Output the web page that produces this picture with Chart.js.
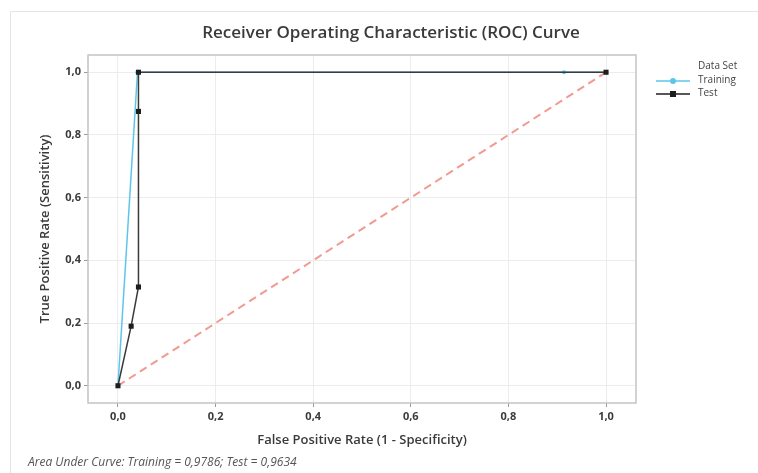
<!DOCTYPE html>
<html>
<head>
<meta charset="utf-8">
<script src="https://cdn.jsdelivr.net/npm/chart.js@4"></script>
<style>
html,body{margin:0;padding:0;background:#fff;}
#wrap{width:758px;height:473px;position:relative;}
</style>
</head>
<body>
<div id="wrap"><canvas id="c" width="758" height="473"></canvas></div>
<script>
// ---- data ----
const chartTitle = "Receiver Operating Characteristic (ROC) Curve";
const xAxisTitle = "False Positive Rate (1 - Specificity)";
const yAxisTitle = "True Positive Rate (Sensitivity)";
const footnote = "Area Under Curve: Training = 0,9786; Test = 0,9634";
const legendTitle = "Data Set";
const seriesNames = ["Training", "Test"];

const trainFPR = [0, 0.040, 0.914, 1.0];
const trainTPR = [0, 1.0, 1.0, 1.0];
const testFPR = [0, 0.027, 0.042, 0.042, 0.042, 1.0];
const testTPR = [0, 0.19, 0.315, 0.875, 1.0, 1.0];
const refFPR = [0, 1];
const refTPR = [0, 1];

const xTicks = [0, 0.2, 0.4, 0.6, 0.8, 1.0];
const yTicks = [0, 0.2, 0.4, 0.6, 0.8, 1.0];

const toPts = (xs, ys) => xs.map((x, i) => ({x: x, y: ys[i]}));
const fmt = v => v.toFixed(1).replace('.', ',');

const FONT = "'Open Sans', 'Noto Sans', sans-serif";
const CYAN = '#5cc6ea';
const BLACK = '#1e1e1e';

const decor = {
  id: 'decor',
  beforeDraw(chart) {
    const ctx = chart.ctx;
    ctx.save();
    ctx.fillStyle = '#fff';
    ctx.fillRect(0, 0, chart.width, chart.height);
    ctx.strokeStyle = '#e4e4e4';
    ctx.lineWidth = 1;
    ctx.beginPath();
    ctx.moveTo(10.5, 473);
    ctx.lineTo(10.5, 11.5);
    ctx.lineTo(758, 11.5);
    ctx.stroke();
    ctx.restore();
  },
  beforeDatasetsDraw(chart) {
    const ctx = chart.ctx, a = chart.chartArea;
    ctx.save();
    ctx.strokeStyle = '#c4c4c4';
    ctx.lineWidth = 1.5;
    ctx.strokeRect(a.left, a.top, a.right - a.left, a.bottom - a.top);
    ctx.restore();
  },
  afterDraw(chart) {
    const ctx = chart.ctx;
    ctx.save();
    // title
    ctx.fillStyle = '#3a3a3a';
    ctx.font = "600 17px " + FONT;
    ctx.textAlign = 'center';
    ctx.textBaseline = 'middle';
    ctx.fillText(chartTitle, 391, 33);
    // legend
    ctx.font = "10px " + FONT;
    ctx.textAlign = 'left';
    ctx.fillStyle = '#444';
    ctx.fillText(legendTitle, 698, 66);
    ctx.fillText(seriesNames[0], 698, 80);
    ctx.fillText(seriesNames[1], 698, 93);
    ctx.lineWidth = 1.5;
    ctx.strokeStyle = CYAN;
    ctx.beginPath(); ctx.moveTo(656, 81); ctx.lineTo(690, 81); ctx.stroke();
    ctx.fillStyle = CYAN;
    ctx.beginPath(); ctx.arc(673, 81, 3, 0, Math.PI * 2); ctx.fill();
    ctx.strokeStyle = BLACK;
    ctx.beginPath(); ctx.moveTo(656, 94); ctx.lineTo(690, 94); ctx.stroke();
    ctx.fillStyle = BLACK;
    ctx.fillRect(670, 91, 6, 6);
    // footnote
    ctx.font = "italic 12px " + FONT;
    ctx.fillStyle = '#555';
    ctx.textBaseline = 'middle';
    ctx.fillText(footnote, 28, 463);
    ctx.restore();
  }
};

new Chart(document.getElementById('c'), {
  type: 'scatter',
  data: {
    datasets: [
      {
        label: 'Reference',
        data: toPts(refFPR, refTPR),
        showLine: true,
        borderColor: '#f19a92',
        borderWidth: 2,
        borderDash: [8, 5],
        pointRadius: 0,
        order: 3
      },
      {
        label: seriesNames[0],
        data: toPts(trainFPR, trainTPR),
        showLine: true,
        borderColor: CYAN,
        backgroundColor: CYAN,
        borderWidth: 1.5,
        pointRadius: 2,
        pointBorderWidth: 0,
        order: 2
      },
      {
        label: seriesNames[1],
        data: toPts(testFPR, testTPR),
        showLine: true,
        borderColor: '#3a3a3a',
        backgroundColor: BLACK,
        borderWidth: 1.5,
        pointStyle: 'rect',
        pointRadius: 3.6,
        pointBorderWidth: 0,
        order: 1
      }
    ]
  },
  options: {
    responsive: false,
    animation: false,
    devicePixelRatio: 1,
    layout: { padding: { top: 55, right: 122, bottom: 25, left: 37 } },
    plugins: {
      legend: { display: false },
      title: { display: false },
      tooltip: { enabled: false }
    },
    scales: {
      x: {
        type: 'linear',
        min: -0.0614,
        max: 1.0614,
        afterBuildTicks: s => { s.ticks = xTicks.map(v => ({ value: v })); },
        afterFit: s => { s.height = 45; },
        grid: { color: '#ececec', lineWidth: 1, tickColor: '#9a9a9a', tickLength: 4, drawTicks: true },
        border: { display: false },
        ticks: {
          callback: v => fmt(v),
          autoSkip: false,
          maxRotation: 0,
          padding: 3,
          color: '#3a3a3a',
          font: { family: FONT, size: 11, weight: 'bold' }
        },
        title: {
          display: true,
          text: xAxisTitle,
          color: '#3a3a3a',
          padding: 0,
          font: { family: FONT, size: 13, weight: '600' }
        }
      },
      y: {
        type: 'linear',
        min: -0.055,
        max: 1.055,
        afterBuildTicks: s => { s.ticks = yTicks.map(v => ({ value: v })); },
        afterFit: s => { s.width = 51; },
        grid: { color: '#ececec', lineWidth: 1, tickColor: '#9a9a9a', tickLength: 4, drawTicks: true },
        border: { display: false },
        ticks: {
          callback: v => fmt(v),
          autoSkip: false,
          padding: 3,
          color: '#3a3a3a',
          font: { family: FONT, size: 11, weight: 'bold' }
        },
        title: {
          display: true,
          text: yAxisTitle,
          color: '#3a3a3a',
          padding: 0,
          font: { family: FONT, size: 13, weight: '600' }
        }
      }
    }
  },
  plugins: [decor]
});
</script>
</body>
</html>
